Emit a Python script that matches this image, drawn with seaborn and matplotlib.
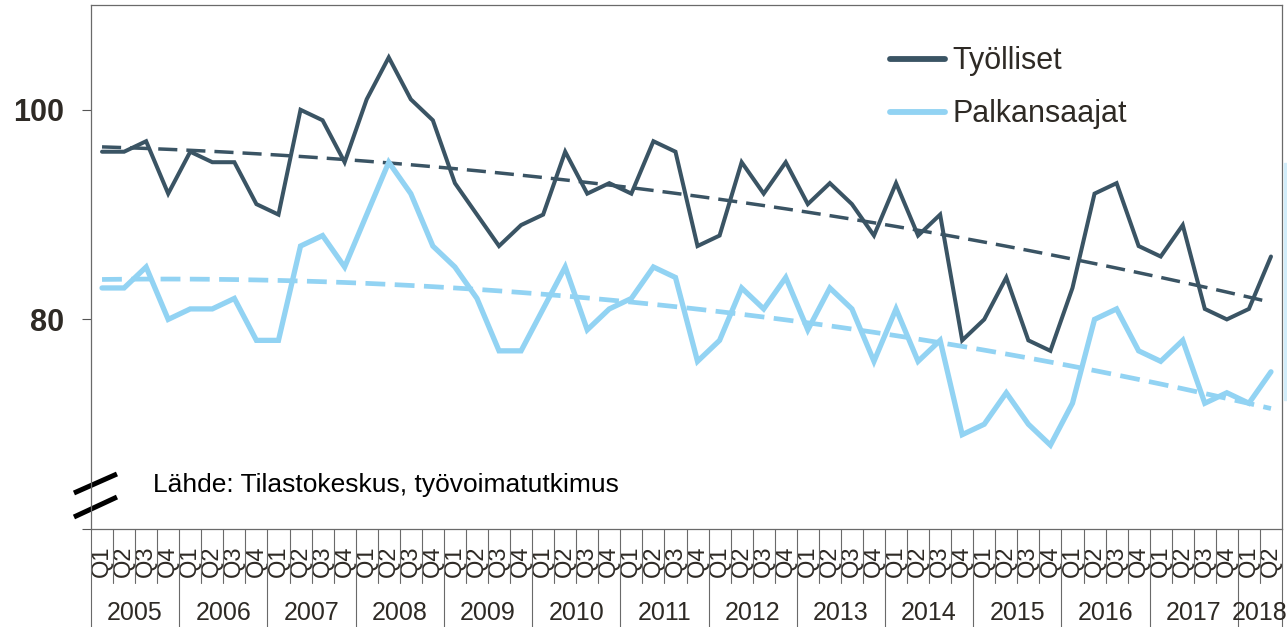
import numpy as np
import pandas as pd
import matplotlib.pyplot as plt
import seaborn as sns
from matplotlib.patches import Rectangle

# Indeksi, neljännesvuosittain 2005 Q1 - 2018 Q2
years = [str(y) for y in range(2005, 2019)]
quarters = ["Q1", "Q2", "Q3", "Q4"]

tyolliset = [96, 96, 97, 92, 96, 95, 95, 91, 90, 100, 99, 95,
             101, 105, 101, 99, 93, 90, 87, 89, 90, 96, 92, 93,
             92, 97, 96, 87, 88, 95, 92, 95, 91, 93, 91, 88,
             93, 88, 90, 78, 80, 84, 78, 77, 83, 92, 93, 87,
             86, 89, 81, 80, 81, 86]
palkansaajat = [83, 83, 85, 80, 81, 81, 82, 78, 78, 87, 88, 85,
                90, 95, 92, 87, 85, 82, 77, 77, 81, 85, 79, 81,
                82, 85, 84, 76, 78, 83, 81, 84, 79, 83, 81, 76,
                81, 76, 78, 69, 70, 73, 70, 68, 72, 80, 81, 77,
                76, 78, 72, 73, 72, 75]

series_names = ["Työlliset", "Palkansaajat"]
colors = ["#3a5464", "#92d3f3"]
source_text = "Lähde: Tilastokeskus, työvoimatutkimus"

n = len(tyolliset)
quarter_labels = [q for y in years for q in quarters][:n]
year_of = [y for y in years for q in quarters][:n]

df = pd.DataFrame({"idx": np.arange(n), "Työlliset": tyolliset,
                   "Palkansaajat": palkansaajat})
# 2. asteen polynomitrendi (kuten Excelissä)
for name in series_names:
    coef = np.polyfit(df["idx"], df[name], 2)
    df[name + "_trend"] = np.polyval(coef, df["idx"])

sns.set_style("white")
plt.rcParams["font.family"] = ["Liberation Sans", "DejaVu Sans"]
text_color = "#2e2a25"

fig = plt.figure(figsize=(12.87, 6.27), dpi=100)
ax = fig.add_axes([91 / 1287, 1 - 529 / 627, 1191 / 1287, 524 / 627])

lws = [2.9, 3.8]
dash_styles = [(0, (5.5, 2.6)), (0, (4.2, 2.0))]
for name, color, lw, ds in zip(series_names, colors, lws, dash_styles):
    sns.lineplot(data=df, x="idx", y=name + "_trend", ax=ax, color=color,
                 lw=lw - 0.4, linestyle=ds, legend=False,
                 label="_nolegend_")
for name, color, lw in zip(series_names, colors, lws):
    sns.lineplot(data=df, x="idx", y=name, ax=ax, color=color, lw=lw,
                 label=name, solid_joinstyle="miter")

ax.set_xlim(-0.5, n - 0.5)
ax.set_ylim(60, 110)
ax.set_xlabel("")
ax.set_ylabel("")

ax.set_yticks([60, 80, 100])
ax.set_yticklabels(["", "80", "100"], fontsize=22, fontweight="bold",
                   color=text_color)
ax.tick_params(axis="y", direction="out", length=6.5, width=0.8,
               color="#555555", pad=13, left=True)

ax.set_xticks(np.arange(n))
ax.set_xticklabels(quarter_labels, rotation=90, fontsize=17,
                   color=text_color)
ax.tick_params(axis="x", length=0, pad=12)

for side in ["left", "right", "top", "bottom"]:
    ax.spines[side].set_color("#6a6a6a")
    ax.spines[side].set_linewidth(0.9)

# erotinviivat neljännesten ja vuosien välille
trans = ax.get_xaxis_transform()
for b in np.arange(n + 1) - 0.5:
    k = int(b + 0.5)
    year_edge = (k % 4 == 0) or (k == n)
    y_end = -0.2 if year_edge else -0.103
    ax.plot([b, b], [0, y_end], transform=trans, color="#6a6a6a", lw=0.8,
            clip_on=False)

# vuosiotsikot ryhmien keskelle
for y in years:
    pos = [i for i in range(n) if year_of[i] == y]
    if not pos:
        continue
    ax.text(np.mean(pos), -0.161, y, transform=trans, ha="center",
            va="center", fontsize=18, color=text_color, clip_on=False)

# katkomerkit
for y0, y1 in [(0.0687, 0.105), (0.0229, 0.061)]:
    ax.plot([-0.0143, 0.0218], [y0, y1], transform=ax.transAxes,
            color="black", lw=3.6, clip_on=False, solid_capstyle="butt")

ax.text(0.052, 0.0706, source_text, transform=ax.transAxes, fontsize=19,
        color="black", va="baseline", ha="left")

leg = ax.legend(loc="upper left", bbox_to_anchor=(0.671, 0.921), frameon=False,
                fontsize=22, handlelength=1.8, handletextpad=0.25,
                labelspacing=0.75, borderpad=0, borderaxespad=0)
for txt in leg.get_texts():
    txt.set_color(text_color)
for h in leg.legend_handles:
    h.set_linewidth(4.2)
    h.set_solid_capstyle("round")

# reunassa näkyvä vaalea palkki
fig.patches.append(Rectangle((1284 / 1287, 1 - 400 / 627), 3 / 1287,
                             237 / 627, transform=fig.transFigure,
                             color="#d2edfa", zorder=0))

fig.savefig("out.png", dpi=100)
